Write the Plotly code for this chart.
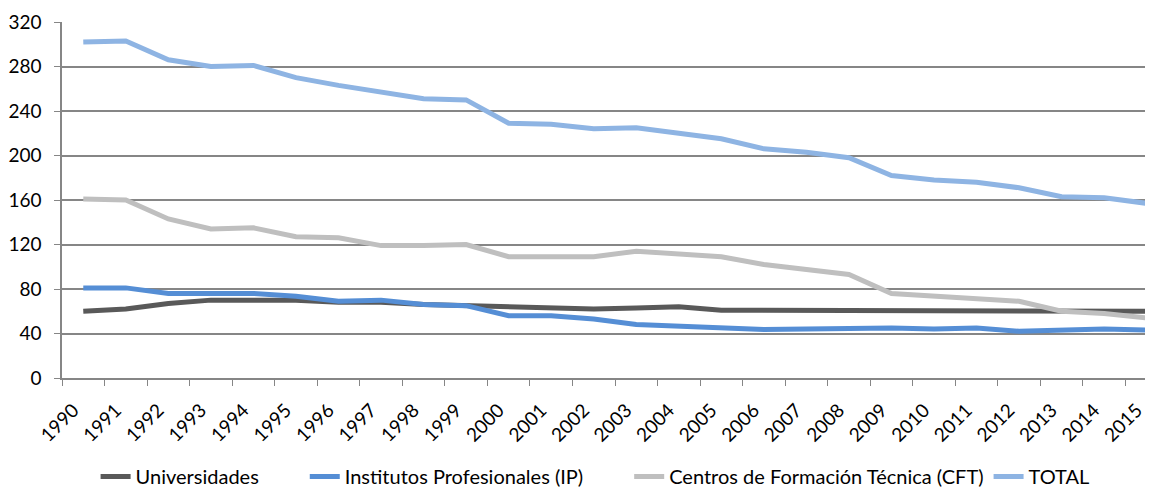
import plotly.graph_objects as go

years = [str(y) for y in range(1990, 2016)]

universidades = [60, 62, 67, 70, 70, 70, 68, 68, 66, 65, 64, 63, 62, 63, 64, 61,
                 61, 61, 61, 61, 60, 60, 60, 60, 60, 60]
institutos = [81, 81, 76, 76, 76, 73.5, 69, 70, 66, 65, 56, 56, 53, 48, 46.5, 45.5,
              43.5, 44, 45, 45, 44, 45, 42, 43, 44, 43]
cft = [161, 160, 143, 134, 135, 127, 126, 119, 119, 120, 109, 109, 109, 114, 111, 109,
       102, 98, 93, 76, 74, 71, 69, 60, 58, 54]
total = [302, 303, 286, 280, 281, 270, 263, 257, 251, 250, 229, 228, 224, 225, 220, 215,
         206, 203, 198, 182, 178, 176, 171, 163, 162, 157]

series = [
    ("Universidades", universidades, "#595959"),
    ("Institutos Profesionales (IP)", institutos, "#558ED5"),
    ("Centros de Formación Técnica (CFT)", cft, "#BFBFBF"),
    ("TOTAL", total, "#8EB4E3"),
]

# extra gap after each legend entry, like the original
gaps = [8, 8, 0, 0]

fig = go.Figure()
for (name, values, color), n in zip(series, gaps):
    fig.add_trace(go.Scatter(
        x=years,
        y=values,
        name=name + "\u00a0" * n,
        mode="lines",
        line=dict(color=color, width=5),
    ))

# page body has an 8px margin, so the figure is offset by it
fig.update_layout(
    width=1160,
    height=488,
    margin=dict(l=54, r=0, t=14, b=117),
    paper_bgcolor="white",
    plot_bgcolor="white",
    font=dict(family="Lato", size=20, color="#000000"),
    showlegend=True,
    legend=dict(
        orientation="h",
        x=0.482,
        xanchor="center",
        y=-0.277,
        yanchor="middle",
        font=dict(size=20),
        traceorder="normal",
    ),
)

fig.update_xaxes(
    type="category",
    range=[-0.5, 25.5],
    automargin=False,
    showgrid=False,
    showline=True,
    linecolor="#868686",
    linewidth=1.5,
    ticks="outside",
    tickson="boundaries",
    ticklen=6,
    tickcolor="#868686",
    tickangle=-45,
    ticklabelstandoff=12,
    ticklabelshift=-10,
    tickfont=dict(size=19),
)

fig.update_yaxes(
    range=[0, 320],
    dtick=40,
    automargin=False,
    showgrid=True,
    gridcolor="#868686",
    gridwidth=1.5,
    showline=True,
    linecolor="#868686",
    linewidth=1.5,
    ticks="outside",
    ticklen=6,
    tickcolor="#868686",
    ticklabelstandoff=9,
    zeroline=False,
    tickfont=dict(size=19),
)

fig.write_html("out.html")
